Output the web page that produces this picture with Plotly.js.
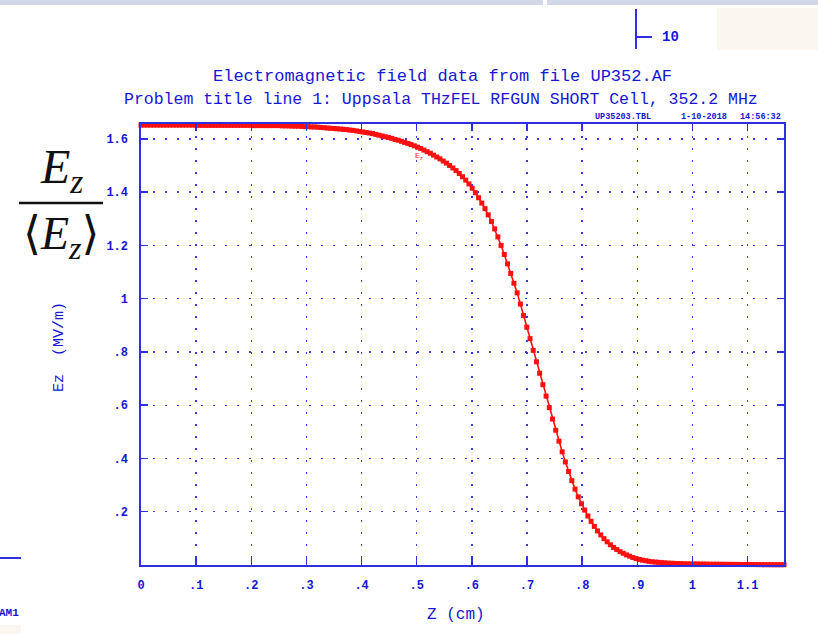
<!DOCTYPE html>
<html>
<head>
<meta charset="utf-8">
<script src="https://cdn.plot.ly/plotly-3.0.1.min.js"></script>
<style>
  html, body { margin: 0; padding: 0; background: #ffffff; }
  #chart { width: 818px; height: 634px; }
</style>
</head>
<body>
<div id="chart"></div>
<script>
// Axial field profile Ez/<Ez> along z (cm), half cell of the RF gun
const zCm = [
  0, 0.00583, 0.01166, 0.01749, 0.02332, 0.02915, 0.03498, 0.04081, 0.04664, 0.05247,
  0.0583, 0.06413, 0.06996, 0.07579, 0.08162, 0.08745, 0.09328, 0.09911, 0.10494, 0.11077,
  0.1166, 0.12243, 0.12826, 0.13409, 0.13992, 0.14575, 0.15158, 0.15741, 0.16324, 0.16907,
  0.1749, 0.18073, 0.18656, 0.19239, 0.19822, 0.20405, 0.20988, 0.21571, 0.22154, 0.22737,
  0.2332, 0.23903, 0.24486, 0.25069, 0.25652, 0.26235, 0.26818, 0.27401, 0.27984, 0.28567,
  0.2915, 0.29733, 0.30316, 0.30899, 0.31482, 0.32065, 0.32648, 0.33231, 0.33814, 0.34397,
  0.3498, 0.35563, 0.36146, 0.36729, 0.37312, 0.37895, 0.38478, 0.39061, 0.39644, 0.40227,
  0.4081, 0.41393, 0.41976, 0.42559, 0.43142, 0.43725, 0.44308, 0.44891, 0.45474, 0.46057,
  0.4664, 0.47223, 0.47806, 0.48389, 0.48972, 0.49555, 0.50138, 0.50721, 0.51304, 0.51887,
  0.5247, 0.53053, 0.53636, 0.54219, 0.54802, 0.55385, 0.55968, 0.56551, 0.57134, 0.57717,
  0.583, 0.58883, 0.59466, 0.60049, 0.60632, 0.61215, 0.61798, 0.62381, 0.62964, 0.63547,
  0.6413, 0.64713, 0.65296, 0.65879, 0.66462, 0.67045, 0.67628, 0.68211, 0.68794, 0.69377,
  0.6996, 0.70543, 0.71126, 0.71709, 0.72292, 0.72875, 0.73458, 0.74041, 0.74624, 0.75207,
  0.7579, 0.76373, 0.76956, 0.77539, 0.78122, 0.78705, 0.79288, 0.79871, 0.80454, 0.81037,
  0.8162, 0.82203, 0.82786, 0.83369, 0.83952, 0.84535, 0.85118, 0.85701, 0.86284, 0.86867,
  0.8745, 0.88033, 0.88616, 0.89199, 0.89782, 0.90365, 0.90948, 0.91531, 0.92114, 0.92697,
  0.9328, 0.93863, 0.94446, 0.95029, 0.95612, 0.96195, 0.96778, 0.97361, 0.97944, 0.98527,
  0.9911, 0.99693, 1.00276, 1.00859, 1.01442, 1.02025, 1.02608, 1.03191, 1.03774, 1.04357,
  1.0494, 1.05523, 1.06106, 1.06689, 1.07272, 1.07855, 1.08438, 1.09021, 1.09604, 1.10187,
  1.1077, 1.11353, 1.11936, 1.12519, 1.13102, 1.13685, 1.14268, 1.14851, 1.15434, 1.16017,
  1.166
];

const ezNorm = [
  1.652, 1.652, 1.652, 1.652, 1.652, 1.652, 1.652, 1.652, 1.652, 1.652,
  1.652, 1.652, 1.652, 1.652, 1.652, 1.652, 1.652, 1.652, 1.651, 1.651,
  1.651, 1.651, 1.651, 1.651, 1.651, 1.651, 1.651, 1.651, 1.651, 1.651,
  1.651, 1.651, 1.651, 1.651, 1.651, 1.650, 1.650, 1.650, 1.650, 1.650,
  1.650, 1.650, 1.650, 1.650, 1.649, 1.649, 1.649, 1.648, 1.648, 1.648,
  1.647, 1.646, 1.646, 1.645, 1.645, 1.644, 1.643, 1.642, 1.641, 1.640,
  1.639, 1.638, 1.637, 1.636, 1.635, 1.633, 1.632, 1.630, 1.628, 1.626,
  1.624, 1.622, 1.620, 1.617, 1.614, 1.611, 1.608, 1.605, 1.602, 1.598,
  1.595, 1.591, 1.587, 1.583, 1.579, 1.574, 1.569, 1.564, 1.558, 1.552,
  1.546, 1.539, 1.532, 1.525, 1.517, 1.509, 1.500, 1.491, 1.481, 1.470,
  1.458, 1.445, 1.431, 1.415, 1.398, 1.379, 1.359, 1.338, 1.315, 1.290,
  1.262, 1.232, 1.200, 1.166, 1.131, 1.095, 1.058, 1.022, 0.980, 0.937,
  0.893, 0.850, 0.806, 0.763, 0.720, 0.677, 0.634, 0.591, 0.548, 0.506,
  0.465, 0.425, 0.387, 0.351, 0.317, 0.285, 0.256, 0.230, 0.206, 0.184,
  0.164, 0.145, 0.128, 0.113, 0.099, 0.087, 0.076, 0.066, 0.058, 0.050,
  0.044, 0.038, 0.033, 0.028, 0.024, 0.021, 0.018, 0.016, 0.014, 0.012,
  0.011, 0.010, 0.009, 0.008, 0.007, 0.0065, 0.006, 0.0055, 0.005, 0.0047,
  0.0044, 0.0042, 0.004, 0.0038, 0.0036, 0.0034, 0.0032, 0.003, 0.0029, 0.0028,
  0.0027, 0.0026, 0.0025, 0.0024, 0.0023, 0.0022, 0.0021, 0.002, 0.0019, 0.0018,
  0.0017, 0.0016, 0.0015, 0.0014, 0.0013, 0.0012, 0.0011, 0.001, 0.001, 0.001,
  0.001
];

const xTickVals = [0, 0.1, 0.2, 0.3, 0.4, 0.5, 0.6, 0.7, 0.8, 0.9, 1.0, 1.1];
const xTickText = ['0', '.1', '.2', '.3', '.4', '.5', '.6', '.7', '.8', '.9', '1', '1.1'];
const yTickVals = [0.2, 0.4, 0.6, 0.8, 1.0, 1.2, 1.4, 1.6];
const yTickText = ['.2', '.4', '.6', '.8', '1', '1.2', '1.4', '1.6'];

const titleLine1 = 'Electromagnetic field data from file UP352.AF';
const titleLine2 = 'Problem title line 1: Uppsala THzFEL RFGUN SHORT Cell, 352.2 MHz';
const stampFile = 'UP35203.TBL';
const stampDate = '1-10-2018';
const stampTime = '14:56:32';

// plot frame in page pixels, used to place decorations in paper units
const M = { l: 141, r: 34, t: 124, b: 69 };
const W = 818, H = 634;
const PW = W - M.l - M.r, PH = H - M.t - M.b;
const px = x => (x - M.l) / PW;
const py = y => (H - M.b - y) / PH;

const BLUE = '#1616d4';
const AXIS = '#2f2fe0';
const MONO = 'Liberation Mono, DejaVu Sans Mono, monospace';
const SERIF = 'Liberation Serif, DejaVu Serif, serif';

const trace = {
  x: zCm,
  y: ezNorm,
  type: 'scatter',
  mode: 'lines+markers',
  line: { color: '#ff1010', width: 1.6 },
  marker: { color: '#ff1010', symbol: 'square', size: 5, line: { width: 0 } },
  cliponaxis: false,
  hoverinfo: 'skip'
};

const axisCommon = {
  showline: true, linecolor: AXIS, linewidth: 1.6, mirror: 'ticks',
  ticks: 'inside', ticklen: 7, tickwidth: 1.5, tickcolor: AXIS,
  showgrid: true, gridcolor: '#3a3ae2', gridwidth: 1.4, griddash: '2px,10px',
  zeroline: false, fixedrange: true,
  tickfont: { family: MONO, size: 12, color: BLUE, weight: 'bold' }
};

const annText = (text, x, y, opts) => Object.assign({
  text: text, xref: 'paper', yref: 'paper', x: px(x), y: py(y),
  xanchor: 'center', yanchor: 'middle', showarrow: false,
  font: { family: MONO, size: 16, color: BLUE }
}, opts || {});

const layout = {
  width: W, height: H,
  margin: M,
  paper_bgcolor: '#ffffff', plot_bgcolor: '#ffffff',
  showlegend: false,
  xaxis: Object.assign({}, axisCommon, {
    range: [0, 1.166], tickmode: 'array', tickvals: xTickVals, ticktext: xTickText,
    ticklabelstandoff: 8
  }),
  yaxis: Object.assign({}, axisCommon, {
    range: [0, 1.656], tickmode: 'array', tickvals: yTickVals, ticktext: yTickText,
    ticklabelstandoff: 9
  }),
  annotations: [
    annText(titleLine1, 442, 76, { font: { family: MONO, size: 17, color: BLUE } }),
    annText(titleLine2, 441, 100, { font: { family: MONO, size: 16.5, color: BLUE } }),
    annText(stampFile, 653, 117, { xanchor: 'right', font: { family: MONO, size: 8.5, color: BLUE, weight: 'bold' } }),
    annText(stampDate, 679, 117, { xanchor: 'left', font: { family: MONO, size: 8.5, color: BLUE, weight: 'bold' } }),
    annText(stampTime, 738, 117, { xanchor: 'left', font: { family: MONO, size: 8.5, color: BLUE, weight: 'bold' } }),
    annText('Z (cm)', 456, 615, { font: { family: MONO, size: 16, color: BLUE } }),
    annText('Ez  (MV/m)', 59, 347, { textangle: -90, font: { family: MONO, size: 15, color: BLUE } }),
    {
      text: 'E<sub>z</sub>', xref: 'x', yref: 'y', x: 0.505, y: 1.533,
      showarrow: false, font: { family: MONO, size: 8, color: '#ff1010' }
    },
    annText('<i>E</i><sub><i>z</i></sub>', 61, 170, { font: { family: SERIF, size: 48, color: '#111111' } }),
    annText('⟨<i>E</i><sub><i>z</i></sub>⟩', 61, 237, { font: { family: SERIF, size: 46, color: '#111111' } }),
    annText('10', 670, 37, { font: { family: MONO, size: 14, color: BLUE, weight: 'bold' } }),
    annText('AM1', 21, 613, { xanchor: 'right', font: { family: MONO, size: 11, color: BLUE, weight: 'bold' } })
  ],
  shapes: [
    // window frame strip along the top edge
    { type: 'rect', xref: 'paper', yref: 'paper', x0: px(0), x1: px(543), y0: py(0), y1: py(5), fillcolor: '#d2d8e8', line: { width: 0 } },
    { type: 'rect', xref: 'paper', yref: 'paper', x0: px(547), x1: px(818), y0: py(0), y1: py(5), fillcolor: '#d2d8e8', line: { width: 0 } },
    // pale panels at the corners
    { type: 'rect', xref: 'paper', yref: 'paper', x0: px(717), x1: px(818), y0: py(8), y1: py(50), fillcolor: '#fbf6ef', line: { width: 0 } },
    { type: 'rect', xref: 'paper', yref: 'paper', x0: px(0), x1: px(21), y0: py(625), y1: py(634), fillcolor: '#fbf6ef', line: { width: 0 } },
    // axis stub with tick near the top
    { type: 'line', xref: 'paper', yref: 'paper', x0: px(636), x1: px(636), y0: py(9), y1: py(49), line: { color: AXIS, width: 2 } },
    { type: 'line', xref: 'paper', yref: 'paper', x0: px(636), x1: px(652), y0: py(37), y1: py(37), line: { color: AXIS, width: 2 } },
    // short rule at lower left
    { type: 'line', xref: 'paper', yref: 'paper', x0: px(0), x1: px(21), y0: py(558), y1: py(558), line: { color: AXIS, width: 2 } },
    // fraction bar of Ez / <Ez>
    { type: 'line', xref: 'paper', yref: 'paper', x0: px(19), x1: px(103), y0: py(203), y1: py(203), line: { color: '#111111', width: 2.5 } }
  ]
};

Plotly.newPlot('chart', [trace], layout, { displayModeBar: false, staticPlot: true });
</script>
</body>
</html>
